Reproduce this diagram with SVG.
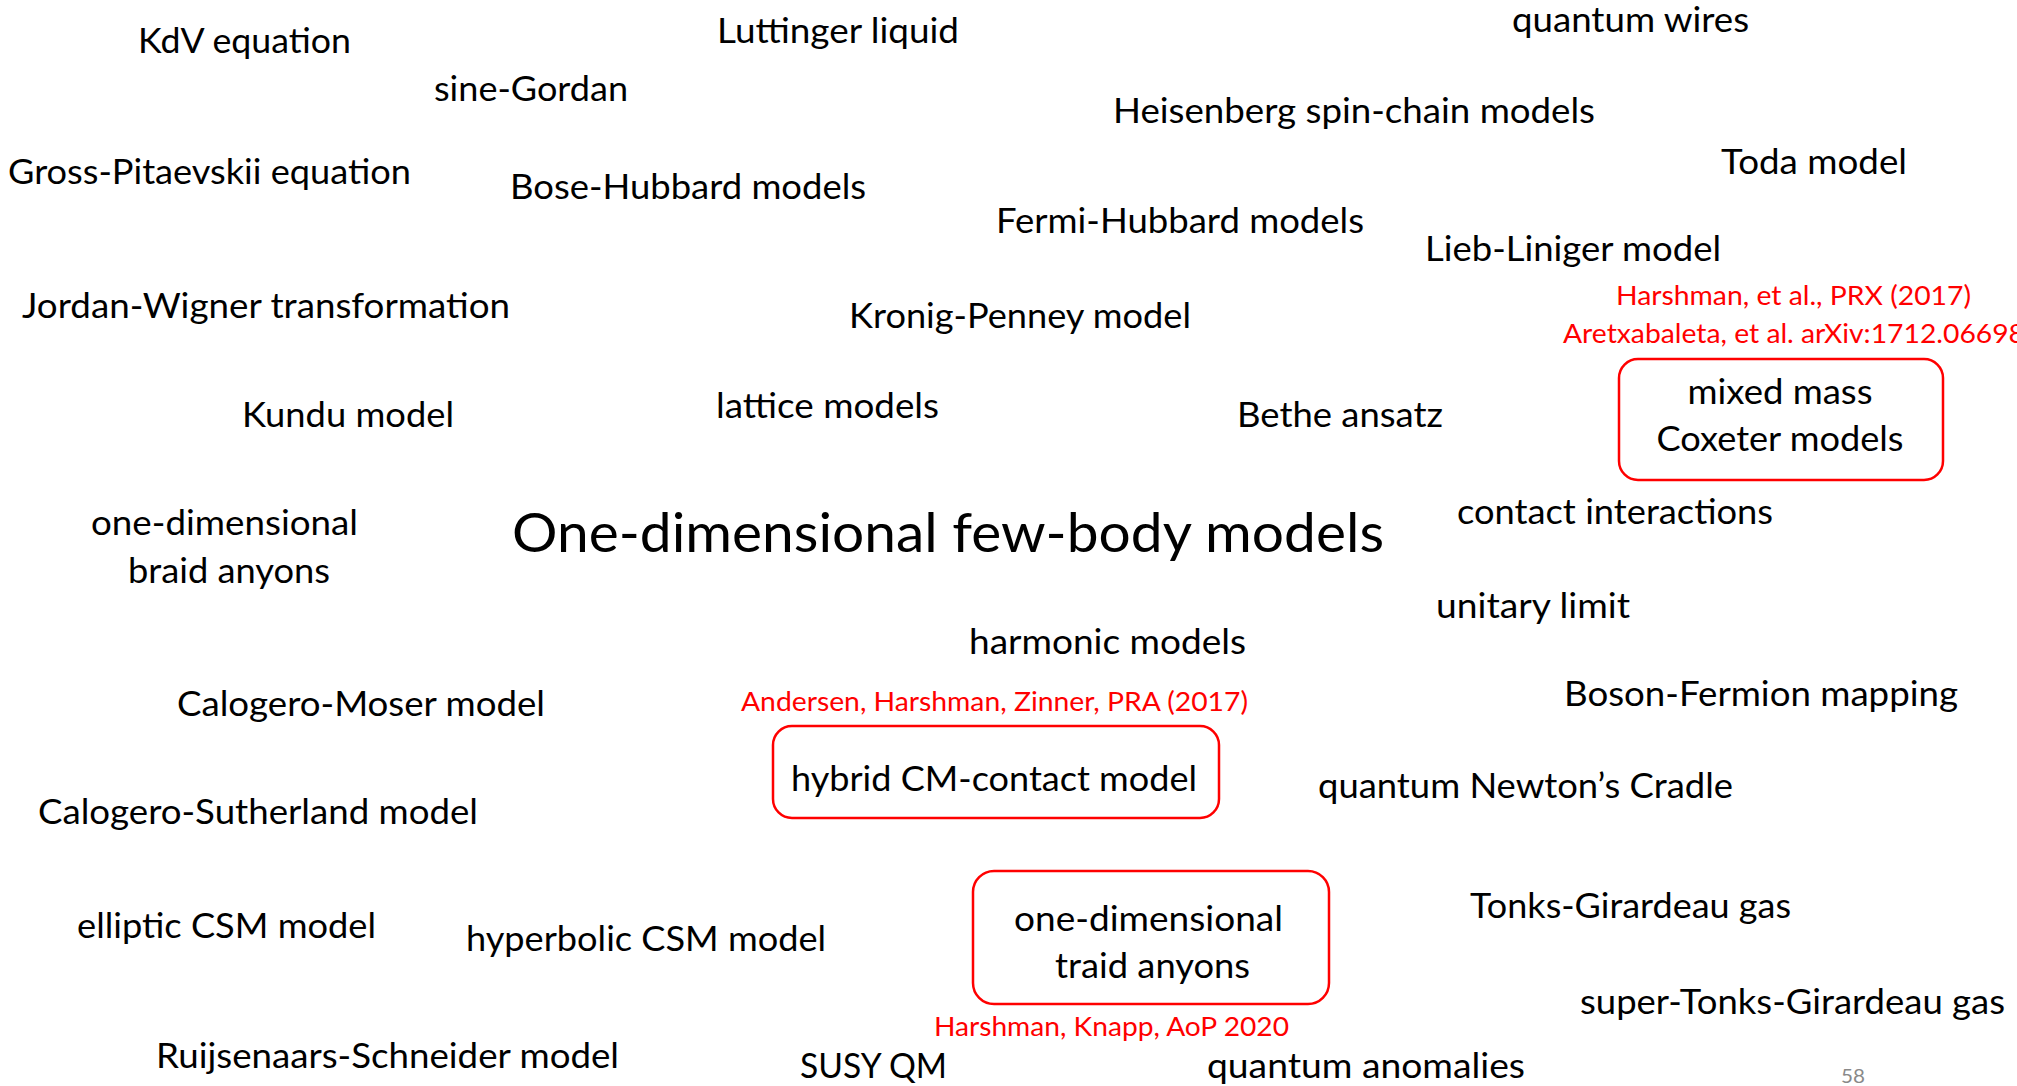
<svg xmlns="http://www.w3.org/2000/svg" width="2017" height="1086" viewBox="0 0 2017 1086">
<style>
  text { font-family: Lato, "Open Sans", "Liberation Sans", sans-serif; fill: #000; }
  .t { font-size: 35px; }
  .title { font-size: 55px; }
  .ref { font-size: 27.5px; fill: #ff0000; }
  .c { text-anchor: middle; }
  .box { fill: none; stroke: #ff0000; stroke-width: 2.5; }
  .pg { font-size: 20px; fill: #898989; }
</style>
<rect width="2017" height="1086" fill="#ffffff"/>
<g id="connectors"/>
<g id="n-kdv"><text class="t" x="138" y="53" textLength="213" lengthAdjust="spacingAndGlyphs">KdV equation</text></g>
<g id="n-luttinger"><text class="t" x="717" y="43" textLength="242" lengthAdjust="spacingAndGlyphs">Luttinger liquid</text></g>
<g id="n-sinegordan"><text class="t" x="434" y="101" textLength="194" lengthAdjust="spacingAndGlyphs">sine-Gordan</text></g>
<g id="n-gross"><text class="t" x="8" y="184" textLength="403" lengthAdjust="spacingAndGlyphs">Gross-Pitaevskii equation</text></g>
<g id="n-bosehubbard"><text class="t" x="510" y="199" textLength="356" lengthAdjust="spacingAndGlyphs">Bose-Hubbard models</text></g>
<g id="n-jordan"><text class="t" x="22" y="318" textLength="488" lengthAdjust="spacingAndGlyphs">Jordan-Wigner transformation</text></g>
<g id="n-kronig"><text class="t" x="849" y="328" textLength="342" lengthAdjust="spacingAndGlyphs">Kronig-Penney model</text></g>
<g id="n-wires"><text class="t" x="1512" y="32" textLength="237" lengthAdjust="spacingAndGlyphs">quantum wires</text></g>
<g id="n-heisenberg"><text class="t" x="1113" y="123" textLength="482" lengthAdjust="spacingAndGlyphs">Heisenberg spin-chain models</text></g>
<g id="n-toda"><text class="t" x="1721" y="174" textLength="186" lengthAdjust="spacingAndGlyphs">Toda model</text></g>
<g id="n-fermihubbard"><text class="t" x="996" y="233" textLength="368" lengthAdjust="spacingAndGlyphs">Fermi-Hubbard models</text></g>
<g id="n-liebliniger"><text class="t" x="1425" y="261" textLength="296" lengthAdjust="spacingAndGlyphs">Lieb-Liniger model</text></g>
<g id="n-ref-prx"><text class="ref" x="1616" y="305" textLength="355" lengthAdjust="spacingAndGlyphs">Harshman, et al., PRX (2017)</text></g>
<g id="n-ref-arxiv"><text class="ref" x="1563" y="343" textLength="462" lengthAdjust="spacingAndGlyphs">Aretxabaleta, et al. arXiv:1712.06698</text></g>
<g id="n-coxeter">
  <rect class="box" x="1619" y="359" width="324" height="121" rx="19"/>
  <text class="t c" x="1780" y="404" textLength="185" lengthAdjust="spacingAndGlyphs">mixed mass</text>
  <text class="t c" x="1780" y="451" textLength="247" lengthAdjust="spacingAndGlyphs">Coxeter models</text>
</g>
<g id="n-bethe"><text class="t" x="1237" y="427" textLength="206" lengthAdjust="spacingAndGlyphs">Bethe ansatz</text></g>
<g id="n-kundu"><text class="t" x="242" y="427" textLength="212" lengthAdjust="spacingAndGlyphs">Kundu model</text></g>
<g id="n-lattice"><text class="t" x="716" y="418" textLength="223" lengthAdjust="spacingAndGlyphs">lattice models</text></g>
<g id="n-contact"><text class="t" x="1457" y="524" textLength="316" lengthAdjust="spacingAndGlyphs">contact interactions</text></g>
<g id="n-title"><text class="title" x="512" y="552" textLength="872" lengthAdjust="spacingAndGlyphs">One-dimensional few-body models</text></g>
<g id="n-braid">
  <text class="t c" x="224.5" y="535" textLength="267" lengthAdjust="spacingAndGlyphs">one-dimensional</text>
  <text class="t c" x="229" y="583" textLength="202" lengthAdjust="spacingAndGlyphs">braid anyons</text>
</g>
<g id="n-unitary"><text class="t" x="1436" y="618" textLength="194" lengthAdjust="spacingAndGlyphs">unitary limit</text></g>
<g id="n-harmonic"><text class="t" x="969" y="654" textLength="277" lengthAdjust="spacingAndGlyphs">harmonic models</text></g>
<g id="n-calmoser"><text class="t" x="177" y="716" textLength="368" lengthAdjust="spacingAndGlyphs">Calogero-Moser model</text></g>
<g id="n-ref-pra"><text class="ref" x="741" y="711" textLength="507" lengthAdjust="spacingAndGlyphs">Andersen, Harshman, Zinner, PRA (2017)</text></g>
<g id="n-bosonfermion"><text class="t" x="1564" y="706" textLength="394" lengthAdjust="spacingAndGlyphs">Boson-Fermion mapping</text></g>
<g id="n-hybrid">
  <rect class="box" x="773" y="726" width="446" height="92" rx="19"/>
  <text class="t" x="791" y="791" textLength="406" lengthAdjust="spacingAndGlyphs">hybrid CM-contact model</text>
</g>
<g id="n-newton"><text class="t" x="1318" y="798" textLength="415" lengthAdjust="spacingAndGlyphs">quantum Newton’s Cradle</text></g>
<g id="n-calsuth"><text class="t" x="38" y="824" textLength="440" lengthAdjust="spacingAndGlyphs">Calogero-Sutherland model</text></g>
<g id="n-elliptic"><text class="t" x="77" y="938" textLength="299" lengthAdjust="spacingAndGlyphs">elliptic CSM model</text></g>
<g id="n-hyperbolic"><text class="t" x="466" y="951" textLength="360" lengthAdjust="spacingAndGlyphs">hyperbolic CSM model</text></g>
<g id="n-traid">
  <rect class="box" x="973" y="871" width="356" height="133" rx="21"/>
  <text class="t c" x="1148.5" y="931" textLength="269" lengthAdjust="spacingAndGlyphs">one-dimensional</text>
  <text class="t c" x="1152.5" y="978" textLength="195" lengthAdjust="spacingAndGlyphs">traid anyons</text>
</g>
<g id="n-tonks"><text class="t" x="1470" y="918" textLength="321" lengthAdjust="spacingAndGlyphs">Tonks-Girardeau gas</text></g>
<g id="n-supertonks"><text class="t" x="1580" y="1014" textLength="425" lengthAdjust="spacingAndGlyphs">super-Tonks-Girardeau gas</text></g>
<g id="n-ref-aop"><text class="ref" x="934" y="1036" textLength="355" lengthAdjust="spacingAndGlyphs">Harshman, Knapp, AoP 2020</text></g>
<g id="n-ruijsenaars"><text class="t" x="156" y="1068" textLength="463" lengthAdjust="spacingAndGlyphs">Ruijsenaars-Schneider model</text></g>
<g id="n-susy"><text class="t" x="800" y="1078" textLength="147" lengthAdjust="spacingAndGlyphs">SUSY QM</text></g>
<g id="n-anomalies"><text class="t" x="1207" y="1078" textLength="318" lengthAdjust="spacingAndGlyphs">quantum anomalies</text></g>
<g id="n-page"><text class="pg" x="1841" y="1083" textLength="24" lengthAdjust="spacingAndGlyphs">58</text></g>
</svg>
